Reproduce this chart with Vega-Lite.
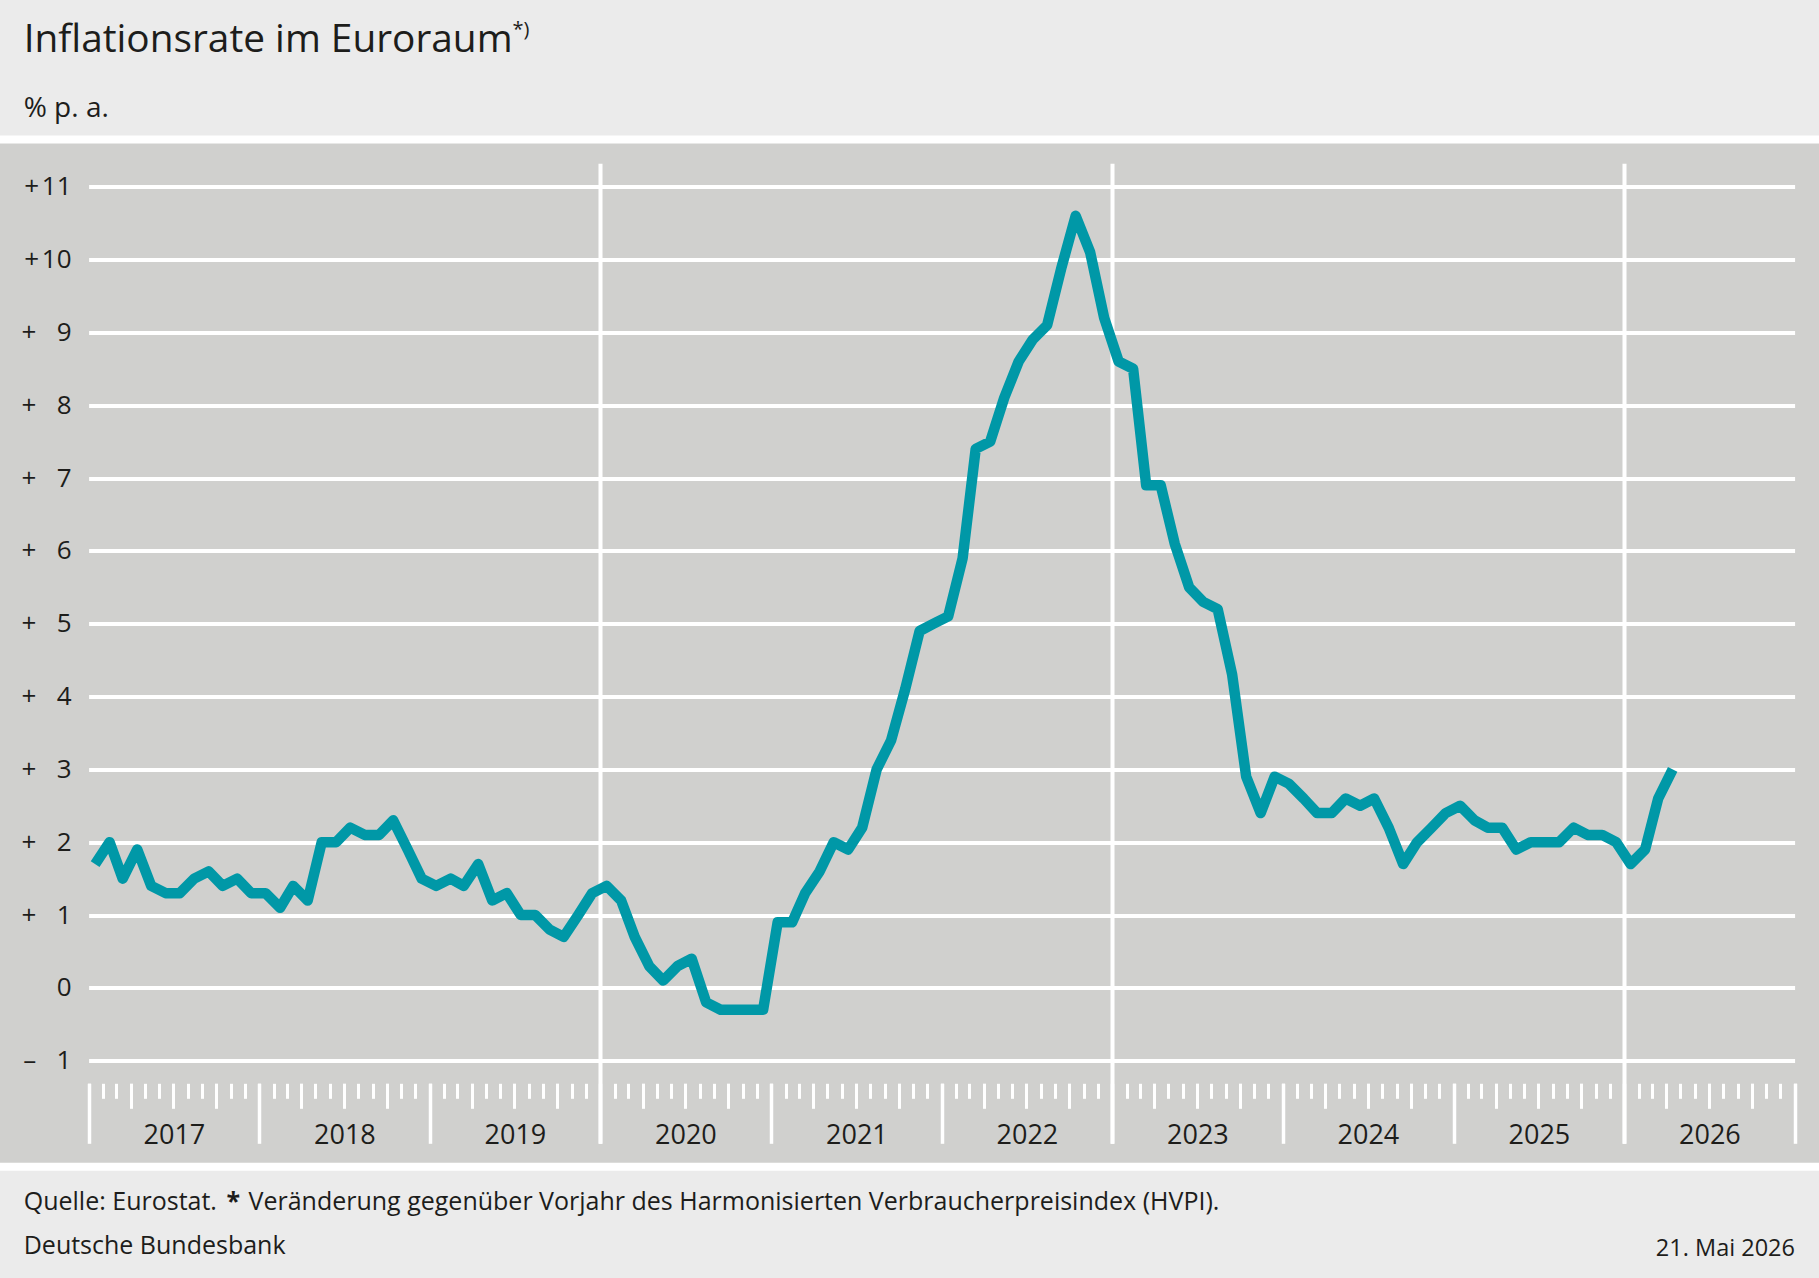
{
  "$schema": "https://vega.github.io/schema/vega-lite/v6.json",
  "autosize": {"type": "none"},
  "padding": {"left": -5, "right": -5, "top": 139.5, "bottom": 111.3},
  "width": 1829,
  "height": 1027.2,
  "config": {
    "background": "#ebebeb",
    "font": "Open Sans",
    "view": {"fill": "#d0d0ce", "stroke": "#ffffff", "strokeWidth": 8},
    "axis": {
      "labelFont": "Open Sans",
      "titleFont": "Open Sans",
      "labelColor": "#1d1d1b",
      "titleColor": "#1d1d1b",
      "titleFontWeight": "normal",
      "tickColor": "#ffffff",
      "domain": false
    }
  },
  "data": {
    "values": [
      {"date": "2017-01-15", "v": 1.7}, {"date": "2017-02-15", "v": 2.0}, {"date": "2017-03-15", "v": 1.5},
      {"date": "2017-04-15", "v": 1.9}, {"date": "2017-05-15", "v": 1.4}, {"date": "2017-06-15", "v": 1.3},
      {"date": "2017-07-15", "v": 1.3}, {"date": "2017-08-15", "v": 1.5}, {"date": "2017-09-15", "v": 1.6},
      {"date": "2017-10-15", "v": 1.4}, {"date": "2017-11-15", "v": 1.5}, {"date": "2017-12-15", "v": 1.3},
      {"date": "2018-01-15", "v": 1.3}, {"date": "2018-02-15", "v": 1.1}, {"date": "2018-03-15", "v": 1.4},
      {"date": "2018-04-15", "v": 1.2}, {"date": "2018-05-15", "v": 2.0}, {"date": "2018-06-15", "v": 2.0},
      {"date": "2018-07-15", "v": 2.2}, {"date": "2018-08-15", "v": 2.1}, {"date": "2018-09-15", "v": 2.1},
      {"date": "2018-10-15", "v": 2.3}, {"date": "2018-11-15", "v": 1.9}, {"date": "2018-12-15", "v": 1.5},
      {"date": "2019-01-15", "v": 1.4}, {"date": "2019-02-15", "v": 1.5}, {"date": "2019-03-15", "v": 1.4},
      {"date": "2019-04-15", "v": 1.7}, {"date": "2019-05-15", "v": 1.2}, {"date": "2019-06-15", "v": 1.3},
      {"date": "2019-07-15", "v": 1.0}, {"date": "2019-08-15", "v": 1.0}, {"date": "2019-09-15", "v": 0.8},
      {"date": "2019-10-15", "v": 0.7}, {"date": "2019-11-15", "v": 1.0}, {"date": "2019-12-15", "v": 1.3},
      {"date": "2020-01-15", "v": 1.4}, {"date": "2020-02-15", "v": 1.2}, {"date": "2020-03-15", "v": 0.7},
      {"date": "2020-04-15", "v": 0.3}, {"date": "2020-05-15", "v": 0.1}, {"date": "2020-06-15", "v": 0.3},
      {"date": "2020-07-15", "v": 0.4}, {"date": "2020-08-15", "v": -0.2}, {"date": "2020-09-15", "v": -0.3},
      {"date": "2020-10-15", "v": -0.3}, {"date": "2020-11-15", "v": -0.3}, {"date": "2020-12-15", "v": -0.3},
      {"date": "2021-01-15", "v": 0.9}, {"date": "2021-02-15", "v": 0.9}, {"date": "2021-03-15", "v": 1.3},
      {"date": "2021-04-15", "v": 1.6}, {"date": "2021-05-15", "v": 2.0}, {"date": "2021-06-15", "v": 1.9},
      {"date": "2021-07-15", "v": 2.2}, {"date": "2021-08-15", "v": 3.0}, {"date": "2021-09-15", "v": 3.4},
      {"date": "2021-10-15", "v": 4.1}, {"date": "2021-11-15", "v": 4.9}, {"date": "2021-12-15", "v": 5.0},
      {"date": "2022-01-15", "v": 5.1}, {"date": "2022-02-15", "v": 5.9}, {"date": "2022-03-15", "v": 7.4},
      {"date": "2022-04-15", "v": 7.5}, {"date": "2022-05-15", "v": 8.1}, {"date": "2022-06-15", "v": 8.6},
      {"date": "2022-07-15", "v": 8.9}, {"date": "2022-08-15", "v": 9.1}, {"date": "2022-09-15", "v": 9.9},
      {"date": "2022-10-15", "v": 10.6}, {"date": "2022-11-15", "v": 10.1}, {"date": "2022-12-15", "v": 9.2},
      {"date": "2023-01-15", "v": 8.6}, {"date": "2023-02-15", "v": 8.5}, {"date": "2023-03-15", "v": 6.9},
      {"date": "2023-04-15", "v": 6.9}, {"date": "2023-05-15", "v": 6.1}, {"date": "2023-06-15", "v": 5.5},
      {"date": "2023-07-15", "v": 5.3}, {"date": "2023-08-15", "v": 5.2}, {"date": "2023-09-15", "v": 4.3},
      {"date": "2023-10-15", "v": 2.9}, {"date": "2023-11-15", "v": 2.4}, {"date": "2023-12-15", "v": 2.9},
      {"date": "2024-01-15", "v": 2.8}, {"date": "2024-02-15", "v": 2.6}, {"date": "2024-03-15", "v": 2.4},
      {"date": "2024-04-15", "v": 2.4}, {"date": "2024-05-15", "v": 2.6}, {"date": "2024-06-15", "v": 2.5},
      {"date": "2024-07-15", "v": 2.6}, {"date": "2024-08-15", "v": 2.2}, {"date": "2024-09-15", "v": 1.7},
      {"date": "2024-10-15", "v": 2.0}, {"date": "2024-11-15", "v": 2.2}, {"date": "2024-12-15", "v": 2.4},
      {"date": "2025-01-15", "v": 2.5}, {"date": "2025-02-15", "v": 2.3}, {"date": "2025-03-15", "v": 2.2},
      {"date": "2025-04-15", "v": 2.2}, {"date": "2025-05-15", "v": 1.9}, {"date": "2025-06-15", "v": 2.0},
      {"date": "2025-07-15", "v": 2.0}, {"date": "2025-08-15", "v": 2.0}, {"date": "2025-09-15", "v": 2.2},
      {"date": "2025-10-15", "v": 2.1}, {"date": "2025-11-15", "v": 2.1}, {"date": "2025-12-15", "v": 2.0},
      {"date": "2026-01-15", "v": 1.7}, {"date": "2026-02-15", "v": 1.9}, {"date": "2026-03-15", "v": 2.6},
      {"date": "2026-04-15", "v": 3.0}
    ]
  },
  "resolve": {"axis": {"x": "independent", "y": "independent"}},
  "layer": [
    {
      "mark": {"type": "line", "color": "#0098a7", "strokeWidth": 10.5, "strokeJoin": "round", "strokeCap": "butt"},
      "encoding": {
        "x": {
          "field": "date", "type": "temporal",
          "scale": {"type": "utc", "nice": false, "range": [93.6, 1799.6],
            "domain": [{"year": 2017, "month": 1, "date": 1, "utc": true}, {"year": 2027, "month": 1, "date": 1, "utc": true}]},
          "axis": {
            "orient": "bottom", "offset": -83.4,
            "tickCount": {"interval": "year", "step": 1},
            "tickSize": 60, "tickWidth": 3.5, "grid": false,
            "format": "%Y", "labelExpr": "utcyear(datum.value) > 2026 ? '' : datum.label",
            "labelOffset": 85.3, "labelPadding": 0, "labelBaseline": "alphabetic", "labelAlign": "center",
            "labelFontSize": 27, "labelFlush": false, "labelOverlap": false, "labelBound": false,
            "title": ["Quelle: Eurostat.", "Deutsche Bundesbank"],
            "titleX": 28.2, "titleY": 125.7, "titleAlign": "left", "titleBaseline": "alphabetic",
            "titleFontSize": 25, "titleLineHeight": 44
          }
        },
        "y": {
          "field": "v", "type": "quantitative",
          "scale": {"domain": [-1, 11], "range": [921.2, 47.2], "nice": false, "zero": false},
          "axis": {
            "orient": "left", "offset": -76,
            "values": [-1, 0, 1, 2, 3, 4, 5, 6, 7, 8, 9, 10, 11],
            "ticks": false, "grid": true, "gridColor": "#ffffff", "gridWidth": 4, "gridOpacity": 1,
            "labelPadding": 0, "labelAlign": "right", "labelBaseline": "middle", "labelFontSize": 26,
            "labelExpr": "datum.value > 9 ? '+\u200a' + datum.value : datum.value > 0 ? '+\u00a0\u00a0\u00a0' + datum.value : datum.value < 0 ? '\u2013\u00a0\u00a0\u00a0' + abs(datum.value) : '0'",
            "title": "Inflationsrate im Euroraum",
            "titleAngle": 0, "titleX": -47.8, "titleY": -87.8, "titleAlign": "left", "titleBaseline": "alphabetic",
            "titleFontSize": 38.8
          }
        }
      }
    },
    {
      "mark": {"type": "line", "opacity": 0},
      "encoding": {
        "x": {
          "field": "date", "type": "temporal",
          "scale": {"type": "utc", "nice": false, "range": [93.6, 1799.6],
            "domain": [{"year": 2017, "month": 1, "date": 1, "utc": true}, {"year": 2027, "month": 1, "date": 1, "utc": true}]},
          "axis": {
            "orient": "bottom", "offset": -83.4,
            "tickCount": {"interval": "month", "step": 1},
            "tickSize": 15, "tickWidth": 3, "grid": false, "labels": false,
            "title": "Veränderung gegenüber Vorjahr des Harmonisierten Verbraucherpreisindex (HVPI).",
            "titleX": 253, "titleY": 125.7, "titleAlign": "left", "titleBaseline": "alphabetic",
            "titleFontSize": 25
          }
        },
        "y": {
          "field": "v", "type": "quantitative",
          "scale": {"domain": [-1, 11], "range": [921.2, 47.2], "nice": false, "zero": false},
          "axis": {
            "orient": "left", "labels": false, "ticks": false, "grid": false,
            "title": "% p. a.",
            "titleAngle": 0, "titleX": 28.2, "titleY": -22.8, "titleAlign": "left", "titleBaseline": "alphabetic",
            "titleFontSize": 28
          }
        }
      }
    },
    {
      "mark": {"type": "line", "opacity": 0},
      "encoding": {
        "x": {
          "field": "date", "type": "temporal",
          "scale": {"type": "utc", "nice": false, "range": [93.6, 1799.6],
            "domain": [{"year": 2017, "month": 1, "date": 1, "utc": true}, {"year": 2027, "month": 1, "date": 1, "utc": true}]},
          "axis": {
            "orient": "bottom", "offset": -83.4,
            "tickCount": {"interval": "month", "step": 3},
            "tickSize": 25, "tickWidth": 3, "grid": false, "labels": false,
            "title": "21. Mai 2026",
            "titleX": 1799.5, "titleY": 171.7, "titleAlign": "right", "titleBaseline": "alphabetic",
            "titleFontSize": 23.5
          }
        },
        "y": {
          "field": "v", "type": "quantitative",
          "scale": {"domain": [-1, 11], "range": [921.2, 47.2], "nice": false, "zero": false},
          "axis": {
            "orient": "left", "labels": false, "ticks": false, "grid": false,
            "title": "*)",
            "titleAngle": 0, "titleX": 517, "titleY": -104.5, "titleAlign": "left", "titleBaseline": "alphabetic",
            "titleFontSize": 20
          }
        }
      }
    },
    {
      "mark": {"type": "line", "opacity": 0},
      "encoding": {
        "x": {
          "field": "date", "type": "temporal",
          "scale": {"type": "utc", "nice": false, "range": [93.6, 1799.6],
            "domain": [{"year": 2017, "month": 1, "date": 1, "utc": true}, {"year": 2027, "month": 1, "date": 1, "utc": true}]},
          "axis": {
            "orient": "top", "offset": -23.8,
            "values": [{"year": 2020, "month": 1, "date": 1, "utc": true}, {"year": 2023, "month": 1, "date": 1, "utc": true}, {"year": 2026, "month": 1, "date": 1, "utc": true}],
            "tickSize": -980, "tickWidth": 4, "grid": false, "labels": false,
            "title": "*",
            "titleX": 231, "titleY": 1045.7, "titleAlign": "left", "titleBaseline": "alphabetic",
            "titleFontSize": 25, "titleFontWeight": "bold"
          }
        },
        "y": {
          "field": "v", "type": "quantitative",
          "scale": {"domain": [-1, 11], "range": [921.2, 47.2], "nice": false, "zero": false},
          "axis": null
        }
      }
    }
  ]
}
